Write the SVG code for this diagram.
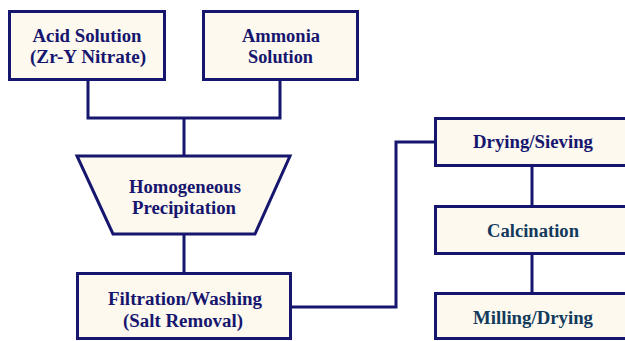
<svg xmlns="http://www.w3.org/2000/svg" width="625" height="341" viewBox="0 0 625 341">
<style>
.box{fill:#fdf9ee;stroke:#16166e;stroke-width:3}
.ln{fill:none;stroke:#16166e;stroke-width:3}
text{font-family:"Liberation Serif","Times New Roman",serif;font-weight:bold;font-size:18px;fill:#16166e;text-anchor:middle}
</style>
<rect width="625" height="341" fill="#ffffff"/>
<g id="connectors">
<path class="ln" d="M88 80V118H280V80"/>
<path class="ln" d="M184 118V156"/>
<path class="ln" d="M184 234V273"/>
<path class="ln" d="M291 307H396V142H435"/>
<path class="ln" d="M532 166V206"/>
<path class="ln" d="M532 254V293"/>
</g>
<g id="acid">
<rect class="box" x="9.5" y="11.5" width="155" height="68"/>
<text x="87" y="42" textLength="109" lengthAdjust="spacingAndGlyphs">Acid Solution</text>
<text x="88" y="63" textLength="116" lengthAdjust="spacingAndGlyphs">(Zr-Y Nitrate)</text>
</g>
<g id="ammonia">
<rect class="box" x="203.5" y="11.5" width="154" height="68"/>
<text x="281" y="42" textLength="78" lengthAdjust="spacingAndGlyphs">Ammonia</text>
<text x="280.5" y="63" textLength="65" lengthAdjust="spacingAndGlyphs">Solution</text>
</g>
<g id="precipitation">
<polygon class="box" points="77,156 290,156 255,234 113,234"/>
<text x="185" y="193" textLength="112" lengthAdjust="spacingAndGlyphs">Homogeneous</text>
<text x="184" y="214" textLength="104" lengthAdjust="spacingAndGlyphs">Precipitation</text>
</g>
<g id="filtration">
<rect class="box" x="77.5" y="273.5" width="213" height="65"/>
<text x="185" y="305" textLength="154" lengthAdjust="spacingAndGlyphs">Filtration/Washing</text>
<text x="183" y="327" textLength="120" lengthAdjust="spacingAndGlyphs">(Salt Removal)</text>
</g>
<g id="drying">
<rect class="box" x="435.5" y="118.5" width="196" height="47"/>
<text x="533" y="148" textLength="120" lengthAdjust="spacingAndGlyphs">Drying/Sieving</text>
</g>
<g id="calcination">
<rect class="box" x="435.5" y="206.5" width="196" height="47"/>
<text x="533" y="237" textLength="92" lengthAdjust="spacingAndGlyphs" style="fill:#123a5c">Calcination</text>
</g>
<g id="milling">
<rect class="box" x="435.5" y="293.5" width="196" height="45"/>
<text x="533" y="324" textLength="120" lengthAdjust="spacingAndGlyphs" style="fill:#123a5c">Milling/Drying</text>
</g>
</svg>
